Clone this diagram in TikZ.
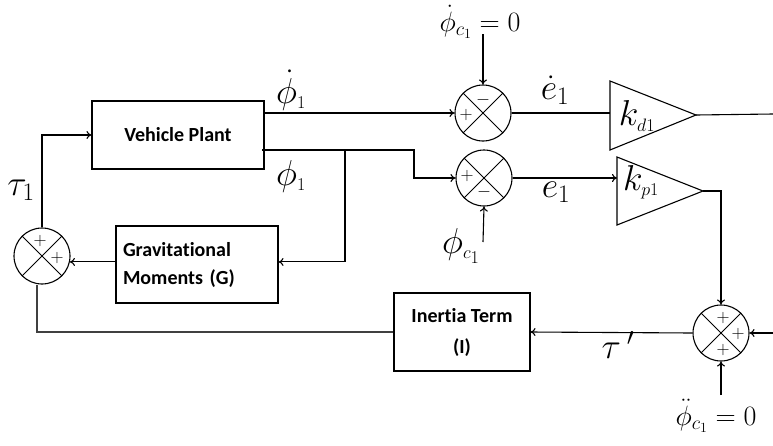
\RequirePackage{fix-cm}
\documentclass[tikz,border=0pt]{standalone}
\usepackage{fontspec}
\newfontfamily\blockfont{Carlito}[Ligatures=NoCommon]
\usetikzlibrary{arrows.meta,calc}

\tikzset{
  wire/.style={line width=1.1pt},
  sig/.style={wire, -{To[length=5pt,width=8pt]}},
  sumnode/.style={circle, draw, line width=1.1pt, minimum size=56pt, inner sep=0pt,
    path picture={\draw[line width=1pt]
      (path picture bounding box.north west) -- (path picture bounding box.south east)
      (path picture bounding box.north east) -- (path picture bounding box.south west);}},
  blockbox/.style={draw, line width=1.1pt, inner sep=0pt,
    font=\blockfont\bfseries\fontsize{20}{28}\selectfont},
  sgn/.style={inner sep=0pt, font=\fontsize{18}{18}\selectfont},
  lbl/.style={inner sep=0pt, font=\fontsize{36}{36}\selectfont},
  reflbl/.style={inner sep=0pt, font=\fontsize{28}{28}\selectfont},
  gain/.style={draw, line width=1.1pt, line join=miter},
}

\begin{document}
\begin{tikzpicture}[x=1pt, y=-1pt]
\useasboundingbox (0,0) rectangle (773,445);

% blocks
\node[blockbox, minimum width=172pt, minimum height=68pt] (vp) at (178,135) {Vehicle Plant};
\node[blockbox, minimum width=162pt, minimum height=77pt, text width=148pt, align=left] (gm) at (197,264.5)
  {Gravitational\\Moments (G)};
\node[blockbox, minimum width=136pt, minimum height=78pt, align=center] (it) at (462,332)
  {Inertia Term\\[3pt](I)};

% summing junctions
\node[sumnode] (sumT) at (483,113) {};
\node[sumnode] (sumB) at (484,178) {};
\node[sumnode] (sumL) at (42,256) {};
\node[sumnode] (sumR) at (721,333) {};

% signs
\node[sgn] at ($(sumT)+(0,-13)$) {$-$};
\node[sgn] at ($(sumT)+(-17,2)$) {$+$};
\node[sgn] at ($(sumB)+(-17,-2)$) {$+$};
\node[sgn] at ($(sumB)+(0,14)$) {$-$};
\node[sgn] at ($(sumL)+(-2,-15)$) {$+$};
\node[sgn] at ($(sumL)+(15,2)$) {$+$};
\node[sgn] at ($(sumR)+(2,-15)$) {$+$};
\node[sgn] at ($(sumR)+(17,1)$) {$+$};
\node[sgn] at ($(sumR)+(2,17)$) {$+$};

% gain blocks
\coordinate (kdA) at (610,81);
\coordinate (kdB) at (610,150);
\coordinate (kdTip) at (696,115);
\coordinate (kdIn) at (610,113);
\draw[gain] (kdA) -- (kdTip) -- (kdB) -- cycle;
\node[lbl] (kd) at (637,116) {$k_{\scriptscriptstyle d1}$};

\coordinate (kpA) at (617,157);
\coordinate (kpB) at (617,225);
\coordinate (kpTip) at (703,191);
\coordinate (kpIn) at (617,178);
\draw[gain] (kpA) -- (kpTip) -- (kpB) -- cycle;
\node[lbl] (kp) at (641,182) {$k_{\scriptscriptstyle p1}$};

% free ends
\coordinate (phiOut) at (262,150);
\coordinate (refTop) at (483,34);
\coordinate (refBot) at (483,242);
\coordinate (refAcc) at (721,395);
\coordinate (rightIn) at (773,333);
\coordinate (rightOut) at (773,114);

% signal labels
\node[lbl] (lphid) at (291,90) {$\dot\phi_{\scriptscriptstyle 1}$};
\node[lbl] (lphi) at (291,176) {$\phi_{\scriptscriptstyle 1}$};
\node[lbl] (led) at (555,90) {$\dot e_1$};
\node[lbl] (le) at (556,192) {$e_1$};
\node[lbl] (ltau) at (21,190) {$\tau_1$};
\node[lbl] (ltaup) at (618,345) {$\tau\,'$};
\node[reflbl] (ltop) at (480,22) {$\dot\phi_{c_1} = 0$};
\node[lbl] (lbot) at (461,246) {$\phi_{\scriptscriptstyle c_1}$};
\node[reflbl] (lacc) at (716,416) {$\ddot\phi_{c_1} = 0$};

% connections
\draw[sig] (vp.east |- sumT.west) -- (sumT.west);
\draw[sig] (phiOut) -- (414,150) |- (sumB.west);
\draw[sig] (345,150) |- (gm.east |- sumL.-12);
\draw[sig] (gm.west |- sumL.-12) -- (sumL.-12);
\draw[sig] (sumL.north) |- (vp.west);
\draw[wire, draw=black!75] (it.west) -| ($(sumL.south)+(-5,0)$);
\draw[sig] (refTop) -- (sumT.north);
\draw[sig] (refBot) -- (sumB.south);
\draw[wire] (sumT.east) -- (kdIn);
\draw[sig] (sumB.east) -- (kpIn);
\draw[wire] (kdTip) -- (rightOut);
\draw[sig] (kpTip) -| (sumR.north);
\draw[sig] (rightIn) -- (sumR.east);
\draw[sig] (refAcc) -- (sumR.south);
\draw[sig] (sumR.west) -- (it.east);
\end{tikzpicture}
\end{document}
